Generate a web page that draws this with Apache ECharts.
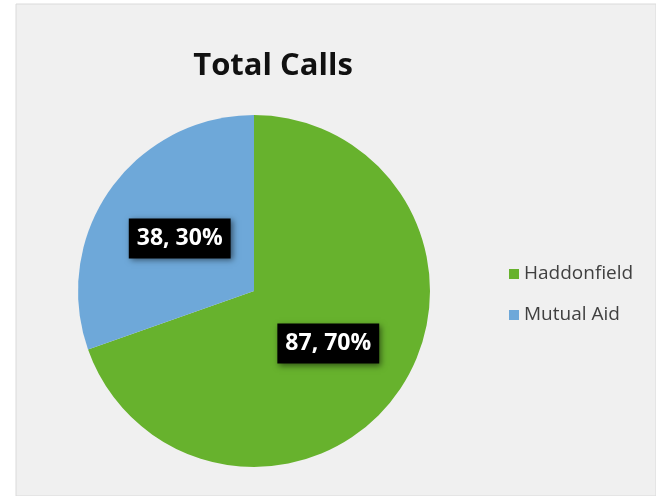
<!DOCTYPE html>
<html>
<head>
<meta charset="utf-8">
<script src="https://cdn.jsdelivr.net/npm/echarts@6/dist/echarts.min.js"></script>
<style>
  html, body { margin: 0; padding: 0; background: #fff; }
  #chart { width: 656px; height: 496px; }
</style>
</head>
<body>
<div id="chart"></div>
<script>
  // data
  var categories = ['Haddonfield', 'Mutual Aid'];
  var calls = [87, 38];
  var colors = ['#67b22d', '#6ea8d9'];

  var chart = echarts.init(document.getElementById('chart'));

  var pieData = [];
  for (var i = 0; i < categories.length; i++) {
    pieData.push({ name: categories[i], value: calls[i], itemStyle: { color: colors[i] } });
  }

  chart.setOption({
    backgroundColor: '#ffffff',
    animation: false,
    graphic: [
      {
        type: 'rect',
        silent: true,
        z: -10,
        shape: { x: 16, y: 4, width: 640, height: 492 },
        style: { fill: '#f0f0f0', stroke: '#dadada', lineWidth: 1 }
      }
    ],
    title: {
      text: 'Total Calls',
      left: 268,
      top: 46,
      textAlign: 'center',
      textStyle: {
        fontFamily: 'Open Sans',
        fontWeight: 'bold',
        fontSize: 31,
        color: '#111'
      }
    },
    legend: {
      orient: 'vertical',
      left: 504,
      top: 259,
      itemWidth: 10,
      itemHeight: 10,
      itemGap: 21,
      icon: 'rect',
      data: categories,
      textStyle: {
        fontFamily: 'Open Sans',
        fontSize: 19,
        lineHeight: 20,
        color: '#404040'
      }
    },
    series: [
      {
        type: 'pie',
        center: [254, 291],
        radius: 176,
        startAngle: 90,
        clockwise: true,
        percentPrecision: 0,
        data: pieData,
        label: {
          position: 'inside',
          formatter: '{c}, {d}%',
          fontFamily: 'Open Sans',
          fontWeight: 'bold',
          fontSize: 23,
          lineHeight: 26,
          color: '#fff',
          backgroundColor: '#000',
          padding: [7, 8],
          shadowColor: 'rgba(0,0,0,0.5)',
          shadowBlur: 6,
          shadowOffsetX: 2,
          shadowOffsetY: 2
        },
        labelLine: { show: false },
        emphasis: { disabled: true }
      }
    ]
  });
</script>
</body>
</html>
